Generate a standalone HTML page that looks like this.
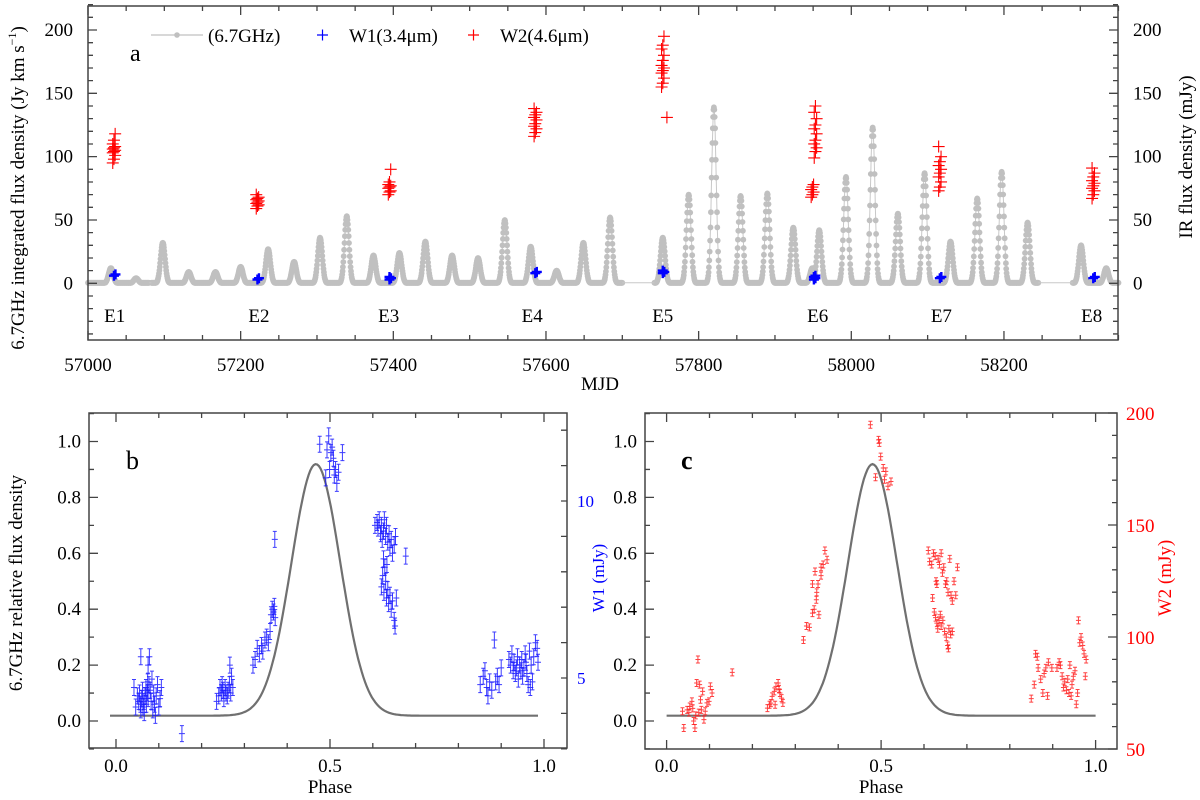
<!DOCTYPE html>
<html><head><meta charset="utf-8"><style>
html,body{margin:0;padding:0;background:#fff}
svg{display:block;font-family:"Liberation Serif",serif}
</style></head><body>
<svg id="fig" xmlns="http://www.w3.org/2000/svg" width="1200" height="800" viewBox="0 0 1200 800">
<rect width="1200" height="800" fill="#fff"/>
<g id="gA"></g>
<g id="gB"></g>
<g id="gC"></g>
<text x="130" y="61" font-size="24">a</text>
<text x="126" y="469" font-size="26">b</text>
<text x="681" y="469" font-size="26" font-weight="bold">c</text>
<text x="600" y="390" font-size="19" text-anchor="middle">MJD</text>
<text transform="translate(24,188) rotate(-90)" font-size="19" text-anchor="middle">6.7GHz integrated flux density (Jy km s<tspan font-size="12" dy="-8">−1</tspan><tspan dy="8">)</tspan></text>
<text transform="translate(1192,157) rotate(-90)" font-size="19" text-anchor="middle">IR flux density (mJy)</text>
<text x="330" y="793" font-size="19" text-anchor="middle">Phase</text>
<text x="881" y="793" font-size="19" text-anchor="middle">Phase</text>
<text transform="translate(22,583) rotate(-90)" font-size="19" text-anchor="middle">6.7GHz relative flux density</text>
<text transform="translate(604,578) rotate(-90)" font-size="17" fill="#0000ff" text-anchor="middle">W1 (mJy)</text>
<text transform="translate(1171,578) rotate(-90)" font-size="19" fill="#ff0000" text-anchor="middle">W2 (mJy)</text>
<g>
<line x1="151" y1="35" x2="203" y2="35" stroke="#c0c0c0" stroke-width="1.2"/>
<circle cx="177" cy="35" r="2.8" fill="#c0c0c0"/>
<text x="208" y="42" font-size="19">(6.7GHz)</text>
<path d="M317 35h11M322.5 29.5v11" stroke="#0000ff" stroke-width="1.2"/>
<text x="349" y="42" font-size="19">W1(3.4μm)</text>
<path d="M468 35h11M473.5 29.5v11" stroke="#ff0000" stroke-width="1.2"/>
<text x="500" y="42" font-size="19">W2(4.6μm)</text>
</g>
</svg>
<script>
const flareMJD = [57030,57063,57098,57132,57167,57200,57236,57270,57304,57339,57374,57408,57442,57477,57511,57546,57580,57614,57649,57684,57753,57787,57820,57855,57890,57924,57949,57958,57993,58028,58061,58096,58130,58165,58197,58231,58301,58334];
const flarePeak = [12,4,32,9,9,13,27,17,36,53,22,24,33,22,20,50,29,10,32,52,36,70,139,69,71,44,12,42,84,123,55,87,33,67,88,48,30,12];
const obsSegments = [[57000,57080],[57083,57700],[57742,58245],[58290,58350]];
const epochLabels = ["E1","E2","E3","E4","E5","E6","E7","E8"];
const epochLabelMJD = [57035,57224,57394,57582,57753,57956,58118,58315];
const w2EpochMJD = [57034,57222,57395,57586,57753,57760,57949,57953,58116,58317];
const w2Values = [[95,98,101,103,104,105,106,107,108,110,113,118],[59,61,62,63,64,65,66,67,68,70],[70,72,73,75,76,77,78,80,90],[116,119,122,124,126,129,131,133,135,138],[155,158,162,166,168,170,172,176,180,185,188,195],[131],[68,70,72,74,76,78],[99,104,107,110,113,118,122,125,130,135,140],[73,76,80,84,87,90,93,96,100,108],[67,70,73,75,77,79,81,84,87,91]];
const w1EpochMJD = [57034,57222,57395,57586,57753,57951,58116,58317];
const w1Values = [[6,7],[3,4],[3,4,5],[8,9],[8,9,10],[3,4,5,6],[4,5],[4,5]];
const aYTicks = [0,50,100,150,200];
const aXTicks = [57000,57200,57400,57600,57800,58000,58200];
const fitB = [0.019,0.90,0.467,0.0573];
const fitC = [0.019,0.90,0.480,0.0573];
const w1Phase = [0.042,0.046,0.05,0.053,0.055,0.057,0.058,0.06,0.062,0.063,0.065,0.066,0.068,0.07,0.071,0.073,0.074,0.075,0.077,0.078,0.08,0.082,0.084,0.086,0.088,0.09,0.092,0.094,0.097,0.1,0.103,0.106,0.058,0.075,
0.154,
0.235,0.24,0.243,0.246,0.248,0.25,0.252,0.255,0.257,0.26,0.262,0.265,0.268,0.27,0.273,0.266,
0.32,0.325,0.33,0.335,0.34,0.343,0.348,0.352,0.356,0.36,0.362,0.365,0.368,0.37,0.372,0.371,
0.476,0.49,0.493,0.497,0.499,0.502,0.505,0.508,0.51,0.513,0.516,0.52,0.529,
0.605,0.61,0.612,0.615,0.618,0.62,0.622,0.625,0.627,0.63,0.632,0.635,0.638,0.64,0.643,0.646,0.65,0.653,0.677,0.62,0.623,0.626,0.628,0.63,0.632,0.635,0.637,0.64,0.643,0.646,0.65,0.652,0.655,0.625,0.633,
0.851,0.858,0.862,0.866,0.869,0.873,0.878,0.884,0.887,0.891,0.895,0.9,
0.918,0.922,0.925,0.928,0.93,0.933,0.936,0.938,0.94,0.943,0.946,0.948,0.95,0.953,0.956,0.958,0.96,0.963,0.966,0.968,0.97,0.973,0.976,0.98,0.984,0.986];
const w1Rel = [0.12,0.05,0.09,0.07,0.1,0.06,0.04,0.08,0.11,0.05,0.07,0.03,0.09,0.12,0.06,0.1,0.14,0.08,0.13,0.23,0.11,0.07,0.15,0.04,0.1,0.06,0.02,0.09,0.13,0.05,0.08,0.12,0.23,0.2,
-0.045,
0.07,0.09,0.12,0.1,0.13,0.11,0.08,0.12,0.1,0.09,0.11,0.13,0.1,0.16,0.12,0.2,
0.2,0.22,0.26,0.24,0.27,0.25,0.29,0.3,0.28,0.32,0.38,0.4,0.39,0.41,0.37,0.65,
0.99,0.87,0.97,1.02,0.9,0.96,0.98,0.94,0.88,0.9,0.85,0.89,0.96,
0.7,0.71,0.69,0.72,0.67,0.7,0.65,0.68,0.72,0.66,0.7,0.64,0.67,0.62,0.65,0.6,0.63,0.66,0.59,0.48,0.52,0.46,0.55,0.5,0.44,0.47,0.42,0.45,0.4,0.43,0.36,0.34,0.44,0.58,0.56,
0.13,0.16,0.18,0.12,0.09,0.14,0.11,0.29,0.14,0.16,0.13,0.19,
0.22,0.2,0.24,0.18,0.21,0.17,0.19,0.23,0.15,0.2,0.18,0.22,0.16,0.19,0.24,0.21,0.17,0.13,0.25,0.12,0.2,0.14,0.23,0.28,0.26,0.21];
const w2Phase = [0.04,0.037,0.048,0.054,0.059,0.063,0.066,0.07,0.073,0.075,0.079,0.081,0.084,0.087,0.09,0.094,0.099,0.102,0.106,0.068,0.061,0.052,0.077,
0.153,
0.235,0.24,0.246,0.251,0.255,0.26,0.264,0.268,0.271,0.243,0.253,0.262,
0.319,0.326,0.333,0.34,0.344,0.349,0.34,0.346,0.353,0.36,0.365,0.369,0.374,0.35,0.355,0.36,
0.475,0.494,0.496,0.499,0.505,0.511,0.487,0.508,0.516,0.523,
0.61,0.613,0.618,0.622,0.626,0.628,0.63,0.633,0.636,0.64,0.643,0.646,0.65,0.653,0.656,0.66,0.663,0.666,0.67,0.674,0.678,0.62,0.624,0.627,0.63,0.632,0.635,0.638,0.64,0.644,0.648,0.652,0.655,0.658,0.662,0.666,0.657,
0.85,0.857,0.86,0.864,0.866,0.872,0.877,0.88,0.884,0.888,0.89,0.898,0.91,0.915,0.918,0.922,0.925,0.928,0.932,0.935,0.938,0.94,0.943,0.945,0.948,0.952,0.955,0.958,0.96,0.963,0.966,0.97,0.973,0.976,0.978];
const w2Rel = [-0.025,0.035,0.04,0.052,0.07,0.0,-0.025,0.136,0.22,0.03,0.076,0.04,0.106,0.005,0.035,0.065,0.07,0.124,0.1,0.02,0.045,0.03,0.13,
0.174,
0.046,0.058,0.088,0.106,0.124,0.136,0.1,0.082,0.065,0.064,0.058,0.115,
0.29,0.34,0.335,0.386,0.4,0.434,0.49,0.535,0.49,0.52,0.56,0.61,0.577,0.46,0.38,0.55,
1.06,1.006,0.995,0.946,0.905,0.893,0.872,0.863,0.84,0.857,
0.61,0.57,0.56,0.6,0.59,0.5,0.49,0.58,0.56,0.6,0.53,0.55,0.49,0.5,0.46,0.58,0.45,0.43,0.5,0.45,0.55,0.44,0.39,0.37,0.35,0.33,0.36,0.38,0.34,0.36,0.32,0.3,0.27,0.33,0.31,0.32,0.26,
0.08,0.13,0.24,0.23,0.19,0.15,0.1,0.17,0.19,0.09,0.21,0.19,0.19,0.21,0.2,0.16,0.12,0.14,0.11,0.15,0.1,0.2,0.09,0.13,0.16,0.18,0.06,0.1,0.36,0.28,0.3,0.27,0.24,0.16,0.22];

const NS = "http://www.w3.org/2000/svg";
function mk(tag, parent, attrs){const e=document.createElementNS(NS,tag);for(const k in attrs)e.setAttribute(k,attrs[k]);parent.appendChild(e);return e;}
const gA=document.getElementById('gA'), gB=document.getElementById('gB'), gC=document.getElementById('gC');

const aL=88,aR=1118,aT=6,aB=340;
const xA=m=>aL+(m-57000)*0.7633;
const yA=v=>283.3-v*1.2665;
function maser(t){let v=0.4;for(let i=0;i<flareMJD.length;i++){const d=(t-flareMJD[i])/4.2;v=Math.max(v,flarePeak[i]*Math.exp(-d*d));}return v;}
for(const seg of obsSegments){
  const pts=[];
  for(let t=seg[0];t<=seg[1];t+=0.5){pts.push([xA(t),yA(maser(t))]);}
  const ln=mk('polyline',gA,{points:pts.map(p=>p[0].toFixed(1)+','+p[1].toFixed(1)).join(' '),fill:'none',stroke:'#c8c8c8','stroke-width':1});
  
  
  for(const p of pts){
    const c=mk('circle',gA,{cx:p[0].toFixed(1),cy:p[1].toFixed(1),r:2.9,fill:'#c0c0c0'});
    
    
  }
}
for(let i=0;i<obsSegments.length-1;i++){
  const a=obsSegments[i][1],b=obsSegments[i+1][0];
  const l=mk('line',gA,{x1:xA(a),y1:yA(maser(a)),x2:xA(b),y2:yA(maser(b)),stroke:'#c8c8c8','stroke-width':1});
  
  
}
for(let i=0;i<w2EpochMJD.length;i++){
  w2Values[i].forEach((v,j)=>{
    const x=xA(w2EpochMJD[i])+((j%3)-1)*1.2, y=yA(v);
    const p=mk('path',gA,{d:`M${x-6} ${y}h12M${x} ${y-6}v12`,stroke:'#ff0000','stroke-width':1.1});
    
    
  });
}
for(let i=0;i<w1EpochMJD.length;i++){
  w1Values[i].forEach((v,j)=>{
    const x=xA(w1EpochMJD[i])+((j%2)*1.5), y=yA(v);
    const p=mk('path',gA,{d:`M${x-5} ${y}h10M${x} ${y-5}v10`,stroke:'#0000ff','stroke-width':2.4});
    
    
  });
}
epochLabels.forEach((s,i)=>{
  const t=mk('text',gA,{x:xA(epochLabelMJD[i]),y:322,'font-size':19,'text-anchor':'middle'});
  t.textContent=s;
  
  
});
function frame(g,l,t,r,b){const f=mk('rect',g,{x:l,y:t,width:r-l,height:b-t,fill:'none',stroke:'#444','stroke-width':1.5});}
frame(gA,aL,aT,aR,aB);
let td='';
for(let m=57000;m<=58350;m+=50){const x=xA(m),L=(m%200===0)?9:5;td+=`M${x} ${aB}v${-L}M${x} ${aT}v${L}`;}
for(let v=-40;v<=220;v+=10){const y=yA(v),L=(v%50===0)?9:5;td+=`M${aL} ${y}h${L}M${aR} ${y}h${-L}`;}
const ta=mk('path',gA,{d:td,stroke:'#444','stroke-width':1.3});


aXTicks.forEach(m=>{const t=mk('text',gA,{x:xA(m),y:371,'font-size':19,'text-anchor':'middle'});t.textContent=m;});
aYTicks.forEach(v=>{
  const t=mk('text',gA,{x:73,y:yA(v)+6,'font-size':19,'text-anchor':'end'});t.textContent=v;
  
  
  const t2=mk('text',gA,{x:1133,y:yA(v)+6,'font-size':19});t2.textContent=v;
  
  
});

function phasePanel(g,l,t,r,b,x0,sx,fit,p0,p1){
  const X=p=>x0+p*sx, Y=v=>721-v*279.5;
  frame(g,l,t,r,b);
  let d='';
  for(let k=0;k<=10;k++){const p=k/10,x=X(p),L=(k%5===0)?9:5;d+=`M${x} ${b}v${-L}M${x} ${t}v${L}`;}
  for(let k=-1;k<=11;k++){const y=Y(k/10),L=(k%2===0)?9:5;d+=`M${l} ${y}h${L}`;}
  const tk=mk('path',g,{d:d,stroke:'#444','stroke-width':1.3});
  
  
  ['0.0','0.5','1.0'].forEach((s,i)=>{const tt=mk('text',g,{x:X(i*0.5),y:772,'font-size':19,'text-anchor':'middle'});tt.textContent=s;});
  ['0.0','0.2','0.4','0.6','0.8','1.0'].forEach((s,i)=>{const tt=mk('text',g,{x:l-8,y:Y(i*0.2)+6,'font-size':19,'text-anchor':'end'});tt.textContent=s;});
  const pts=[];
  for(let p=p0;p<=p1+1e-9;p+=0.004){const z=(p-fit[2])/fit[3];pts.push(X(p).toFixed(1)+','+Y(fit[0]+fit[1]*Math.exp(-0.5*z*z)).toFixed(1));}
  const c=mk('polyline',g,{points:pts.join(' '),fill:'none',stroke:'#707070','stroke-width':2.2});
  
  
  return [X,Y];
}
const [XB,YB]=phasePanel(gB,89,413,567,748,116,428,fitB,-0.014,0.988);
const [XC,YC]=phasePanel(gC,645,413,1117,749,666.6,429,fitC,0,1.0);
let d1='';
for(let w=3;w<=12;w++){const y=678-(w-5)*35.4;d1+=`M567 ${y}h-6`;}
const tb=mk('path',gB,{d:d1,stroke:'#444','stroke-width':1.3});


[5,10].forEach(w=>{const t=mk('text',gB,{x:577,y:678-(w-5)*35.4+6,'font-size':17,fill:'#0000ff'});t.textContent=w;});
let d2='';
for(let w=50;w<=200;w+=10){const y=749-(w-50)*2.24,L=(w%50===0)?9:5;d2+=`M1117 ${y}h${-L}`;}
const tc=mk('path',gC,{d:d2,stroke:'#444','stroke-width':1.3});


[50,100,150,200].forEach(w=>{const t=mk('text',gC,{x:1126,y:749-(w-50)*2.24+7,'font-size':19,fill:'#ff0000'});t.textContent=w;});
w1Phase.forEach((p,i)=>{
  const x=XB(p),y=YB(w1Rel[i]),e=8;
  const m=mk('path',gB,{d:`M${x} ${y-e}v${2*e}M${x-2} ${y-e}h4M${x-2} ${y+e}h4M${x-3} ${y}h6`,stroke:'#1a1aff','stroke-width':1,opacity:0.85});
  
  
});
w2Phase.forEach((p,i)=>{
  const x=XC(p),y=YC(w2Rel[i]),e=3.5;
  const m=mk('path',gC,{d:`M${x} ${y-e}v${2*e}M${x-2} ${y-e}h4M${x-2} ${y+e}h4M${x-2.5} ${y}h5`,stroke:'#ff2020','stroke-width':1,opacity:0.85});
  
  
});
</script>
</body></html>
